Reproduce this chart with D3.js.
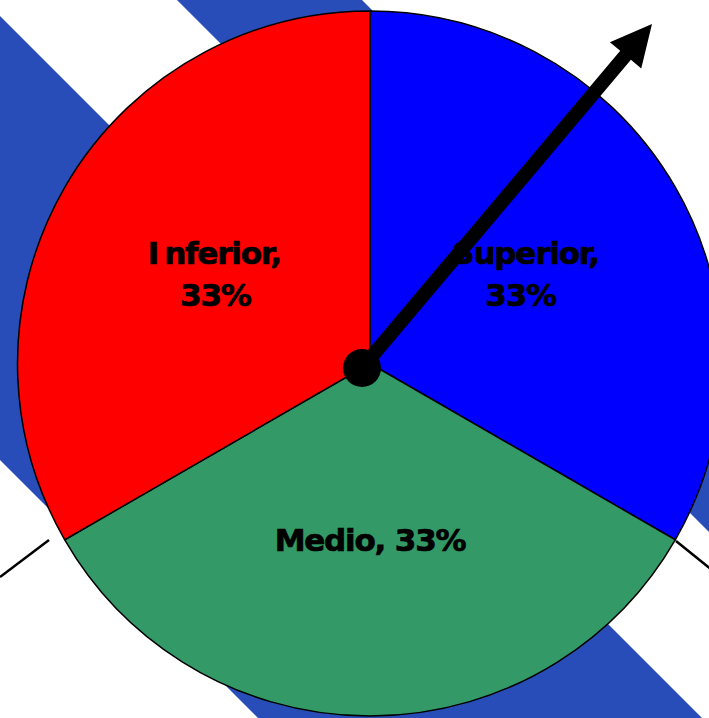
<!DOCTYPE html>
<html>
<head>
<meta charset="utf-8">
<script src="https://cdn.jsdelivr.net/npm/d3@7"></script>
<style>
  html, body { margin: 0; padding: 0; background: #fff; }
  svg { display: block; }
</style>
</head>
<body>
<div id="chart"></div>
<script>
// data
var categories = ["Superior", "Medio", "Inferior"];
var values = [33, 33, 33];
var percentLabels = ["33%", "33%", "33%"];
var sliceColors = ["#0000ff", "#339966", "#ff0000"];

var width = 709, height = 718;
var cx = 370, cy = 363.5, radius = 352.5;

var svg = d3.select("#chart").append("svg")
  .attr("width", width)
  .attr("height", height);

// diagonal background stripes (x - y bands)
var bands = [[-460, -16], [177, 362]];
svg.selectAll("path.band")
  .data(bands)
  .enter().append("path")
  .attr("class", "band")
  .attr("fill", "#284db8")
  .attr("d", function(b) {
    return "M" + (b[0] - 1000) + "," + (-1000) +
      "L" + (b[0] + 2000) + "," + 2000 +
      "L" + (b[1] + 2000) + "," + 2000 +
      "L" + (b[1] - 1000) + "," + (-1000) + "Z";
  });

// leader lines
svg.append("line")
  .attr("x1", 49).attr("y1", 540).attr("x2", 0).attr("y2", 577)
  .attr("stroke", "#000").attr("stroke-width", 2.5);
svg.append("line")
  .attr("x1", 676).attr("y1", 541).attr("x2", 712).attr("y2", 570)
  .attr("stroke", "#000").attr("stroke-width", 2.5);

var pie = d3.pie().sort(null).value(function(d) { return d; });
var arcs = pie(values);

var arc = d3.arc().innerRadius(0).outerRadius(radius);
var labelArc = d3.arc().innerRadius(radius * 0.5).outerRadius(radius * 0.5);

var g = svg.append("g").attr("transform", "translate(" + cx + "," + cy + ")");

g.selectAll("path.slice")
  .data(arcs)
  .enter().append("path")
  .attr("class", "slice")
  .attr("d", arc)
  .attr("fill", function(d, i) { return sliceColors[i]; })
  .attr("stroke", "#000")
  .attr("stroke-width", 1.5)
  .attr("stroke-linejoin", "round");

// labels
var font = "'DejaVu Sans', Verdana, sans-serif";
arcs.forEach(function(d, i) {
  var c = labelArc.centroid(d);
  var t = g.append("text")
    .attr("text-anchor", "middle")
    .style("font-family", font)
    .style("font-weight", "bold")
    .style("font-size", "31px")
    .style("letter-spacing", "-1.2px")
    .attr("fill", "#000")
    .attr("stroke", "#000")
    .attr("stroke-width", 0.7);
  if (categories[i] === "Medio") {
    t.attr("x", c[0]).attr("y", c[1] + 11.5)
      .text(categories[i] + ", " + percentLabels[i]);
  } else {
    if (categories[i] === "Inferior") {
      t.append("tspan").attr("x", c[0] - 3).attr("y", c[1] - 11.5).text("I");
      t.append("tspan").attr("dx", 6).text("nferior,");
    } else {
      t.append("tspan").attr("x", c[0] + 3).attr("y", c[1] - 11.5).text(categories[i] + ",");
    }
    t.append("tspan").attr("x", c[0] - 2).attr("y", c[1] + 30.5).text(percentLabels[i]);
  }
});

// arrow from the hub
var x0 = 362, y0 = 368, tipX = 652, tipY = 24;
var dx = tipX - x0, dy = tipY - y0, len = Math.sqrt(dx * dx + dy * dy);
var ux = dx / len, uy = dy / len, px = -uy, py = ux;
var headLen = 41, headHalf = 20.5, shaftHalf = 7;
var bx = tipX - ux * headLen, by = tipY - uy * headLen;
var arrowPts = [
  [x0 + px * shaftHalf, y0 + py * shaftHalf],
  [bx + px * shaftHalf, by + py * shaftHalf],
  [bx + px * headHalf, by + py * headHalf],
  [tipX, tipY],
  [bx - px * headHalf, by - py * headHalf],
  [bx - px * shaftHalf, by - py * shaftHalf],
  [x0 - px * shaftHalf, y0 - py * shaftHalf]
];
svg.append("path")
  .attr("d", d3.line()(arrowPts) + "Z")
  .attr("fill", "#000");

svg.append("circle")
  .attr("cx", x0).attr("cy", y0).attr("r", 19)
  .attr("fill", "#000");
</script>
</body>
</html>
